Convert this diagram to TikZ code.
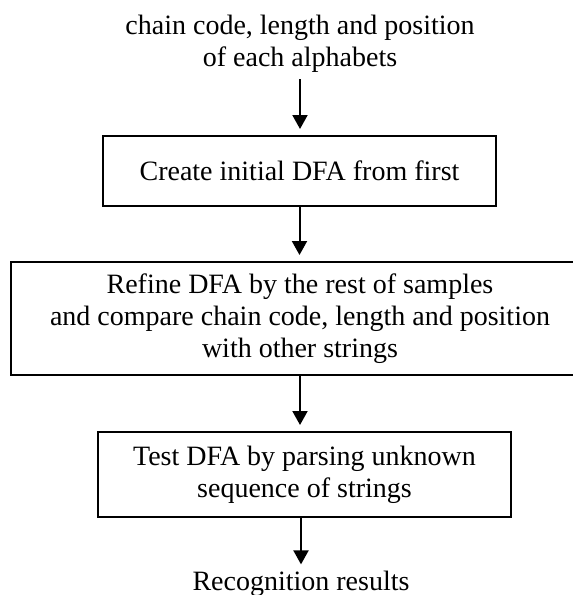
\documentclass[tikz,border=0pt]{standalone}
\usepackage{fontspec}
\setmainfont{Liberation Serif}
\usetikzlibrary{arrows.meta}
\begin{document}
\begin{tikzpicture}[x=1pt,y=-1pt,
  txt/.style={font=\fontsize{28}{32}\selectfont, align=center, inner sep=0pt},
  stepbox/.style={txt, draw, line width=2pt},
  flow/.style={line width=2pt, -{Triangle[width=15pt,length=14pt]}, shorten >=6pt}]
\useasboundingbox[fill=white] (0,0) rectangle (573,595);
\node[txt] (src) at (300,43.5) {chain code, length and position\\of each alphabets};
\node[stepbox, minimum width=393pt, minimum height=70pt] (b1) at (299.5,171) {Create initial DFA from first};
\node[stepbox, minimum width=578pt, minimum height=113pt] (b2) at (300,318.5) {Refine DFA by the rest of samples\\and compare chain code, length and position\\with other strings};
\node[stepbox, minimum width=413pt, minimum height=85pt] (b3) at (304.5,474.5) {Test DFA by parsing unknown\\sequence of strings};
\node[txt, anchor=base] (res) at (301,590) {Recognition results};
\draw[flow, shorten <=7pt] (src.south) -- (b1.north -| src.south);
\draw[flow] (b1.south) -- (b2.north -| b1.south);
\draw[flow] (b2.south) -- (b3.north -| b2.south);
\draw[flow] (b3.south -| res.north) -- (res.north);
\end{tikzpicture}
\end{document}
